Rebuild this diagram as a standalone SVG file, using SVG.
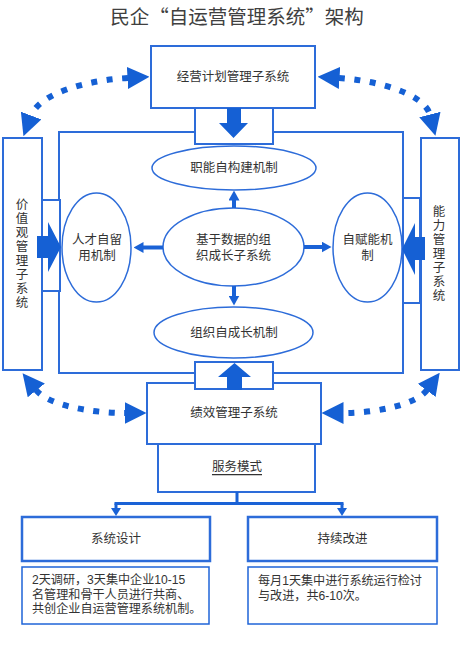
<svg xmlns="http://www.w3.org/2000/svg" width="462" height="645" viewBox="0 0 462 645">
<style>
  .box{fill:#fff;stroke:#2d6cd9;stroke-width:2}
  .box2{fill:#fff;stroke:#2d6cd9;stroke-width:2.5}
  .desc{fill:#fff;stroke:#1f64d8;stroke-width:1.5}
  .ell{fill:#fff;stroke:#2d6cd9;stroke-width:1.5}
  .t{font-family:"Liberation Sans","Noto Sans CJK SC",sans-serif;font-size:12.5px;fill:#333;dominant-baseline:central}
  .d{font-size:12.1px}
  .c{text-anchor:middle}
  .title{font-family:"Noto Sans CJK SC","Liberation Sans",sans-serif;font-size:19.5px;fill:#404040;text-anchor:middle;dominant-baseline:central}
  .dot{fill:none;stroke:#1560d4;stroke-width:6;stroke-dasharray:6 9.5}
  .sa{stroke:#1a62d6;stroke-width:4;fill:none}
  .tree{stroke:#1a62d6;stroke-width:3;fill:none}
  .blk{fill:#1560d4}
</style>
<defs>
  <marker id="ah" markerUnits="userSpaceOnUse" viewBox="0 0 22 22" markerWidth="22" markerHeight="22" refX="0.5" refY="11" orient="auto-start-reverse">
    <path d="M0,0 L22,11 L0,22 Z" fill="#1560d4"/>
  </marker>
  <marker id="sh" markerUnits="userSpaceOnUse" viewBox="0 0 10 11" markerWidth="10" markerHeight="11" refX="0.5" refY="5.5" orient="auto">
    <path d="M0,0 L10,5.5 L0,11 Z" fill="#1a62d6"/>
  </marker>
  <marker id="th" markerUnits="userSpaceOnUse" viewBox="0 0 8 10" markerWidth="8" markerHeight="10" refX="0.5" refY="5" orient="auto">
    <path d="M0,0 L8,5 L0,10 Z" fill="#1a62d6"/>
  </marker>
</defs>
<rect width="462" height="645" fill="#fff"/>
<text class="title" x="237" y="15.5">民企“自运营管理系统”架构</text>

<g id="inner-frame"><rect class="box" x="59" y="132" width="344" height="241" fill="none"/></g>

<g id="node-plan"><rect class="box" x="151" y="46" width="164" height="62"/><text class="t c" x="233" y="77">经营计划管理子系统</text></g>
<g id="node-perf"><rect class="box" x="147" y="383" width="174" height="61"/><text class="t c" x="234" y="413">绩效管理子系统</text></g>
<g id="node-service"><rect class="box" x="158" y="444" width="157" height="48"/><text class="t c" x="237" y="467" text-decoration="underline">服务模式</text></g>
<g id="node-value"><rect class="box" x="3" y="138" width="39" height="232"/>
  <text class="t c" x="22" y="205">价<tspan x="22" dy="14">值</tspan><tspan x="22" dy="14">观</tspan><tspan x="22" dy="14">管</tspan><tspan x="22" dy="14">理</tspan><tspan x="22" dy="14">子</tspan><tspan x="22" dy="14">系</tspan><tspan x="22" dy="14">统</tspan></text></g>
<g id="node-ability"><rect class="box" x="421" y="138" width="38" height="232"/>
  <text class="t c" x="439" y="212">能<tspan x="439" dy="14">力</tspan><tspan x="439" dy="14">管</tspan><tspan x="439" dy="14">理</tspan><tspan x="439" dy="14">子</tspan><tspan x="439" dy="14">系</tspan><tspan x="439" dy="14">统</tspan></text></g>

<g id="notch-top"><rect class="box" x="195" y="108" width="78" height="36"/></g>
<g id="notch-bottom"><rect class="box" x="195" y="362" width="78" height="27"/></g>
<g id="notch-left"><rect class="box" x="42" y="200" width="18" height="91"/></g>
<g id="notch-right"><rect class="box" x="403" y="198" width="17" height="105"/></g>

<g id="node-func"><ellipse class="ell" cx="234" cy="168" rx="82" ry="22"/><text class="t c" x="234" y="168">职能自构建机制</text></g>
<g id="node-talent"><ellipse class="ell" cx="96.5" cy="247.5" rx="34.5" ry="54.5"/><text class="t c" x="97" y="240">人才自留<tspan x="97" dy="15.5">用机制</tspan></text></g>
<g id="node-core"><ellipse class="ell" cx="233.5" cy="247" rx="70.5" ry="39"/><text class="t c" x="233.5" y="240">基于数据的组<tspan x="233.5" dy="15.5">织成长子系统</tspan></text></g>
<g id="node-empower"><ellipse class="ell" cx="367.5" cy="247.5" rx="34.5" ry="54.5"/><text class="t c" x="367.5" y="240">自赋能机<tspan x="367.5" dy="15.5">制</tspan></text></g>
<g id="node-grow"><ellipse class="ell" cx="233.5" cy="332.5" rx="79.5" ry="25.5"/><text class="t c" x="234" y="333">组织自成长机制</text></g>

<g id="node-design"><rect class="box2" x="22" y="517" width="188" height="44"/><text class="t c" x="116" y="539">系统设计</text></g>
<g id="node-improve"><rect class="box2" x="248" y="517" width="189" height="44"/><text class="t c" x="342.5" y="539">持续改进</text></g>
<g id="node-design-desc"><rect class="desc" x="22" y="567" width="187" height="57"/>
  <text class="t d" x="32" y="580">2天调研，3天集中企业10-15<tspan x="32" dy="14.5">名管理和骨干人员进行共商、</tspan><tspan x="32" dy="14.5">共创企业自运营管理系统机制。</tspan></text></g>
<g id="node-improve-desc"><rect class="desc" x="248" y="567" width="189" height="57"/>
  <text class="t d" x="258" y="581">每月1天集中进行系统运行检讨<tspan x="258" dy="14.5">与改进，共6-10次。</tspan></text></g>

<g id="connectors">
  <path class="dot" d="M128,78 C90,80 40,92 31,116" marker-start="url(#ah)" marker-end="url(#ah)"/>
  <path class="dot" d="M339,78 C372,80 424,92 430,115" marker-start="url(#ah)" marker-end="url(#ah)"/>
  <path class="dot" d="M36,390 C48,405 90,413 125,413" marker-start="url(#ah)" marker-end="url(#ah)"/>
  <path class="dot" d="M427,390 C416,405 375,413 343,413" marker-start="url(#ah)" marker-end="url(#ah)"/>
  <polygon class="blk" points="227,108 241,108 241,123 248,123 233.5,138 219,123 227,123"/>
  <polygon class="blk" points="227,390 242,390 242,377 251,377 234.5,363 218,377 227,377"/>
  <polygon class="blk" points="37,236 48,236 48,222 61,247 48,272 48,258 37,258"/>
  <polygon class="blk" points="425,237 415,237 415,223 402,249 415,275 415,260 425,260"/>
  <line class="sa" x1="234" y1="208" x2="234" y2="200" marker-end="url(#sh)"/>
  <line class="sa" x1="234" y1="286" x2="234" y2="296" marker-end="url(#sh)"/>
  <line class="sa" x1="163" y1="247.5" x2="143" y2="247.5" marker-end="url(#sh)"/>
  <line class="sa" x1="304" y1="247" x2="322" y2="247" marker-end="url(#sh)"/>
  <path class="tree" d="M237,492 V503.5 M114.5,503.5 H343.5"/>
  <path class="tree" d="M116,503.5 V508.5" marker-end="url(#th)"/>
  <path class="tree" d="M342,503.5 V508.5" marker-end="url(#th)"/>
</g>
</svg>
